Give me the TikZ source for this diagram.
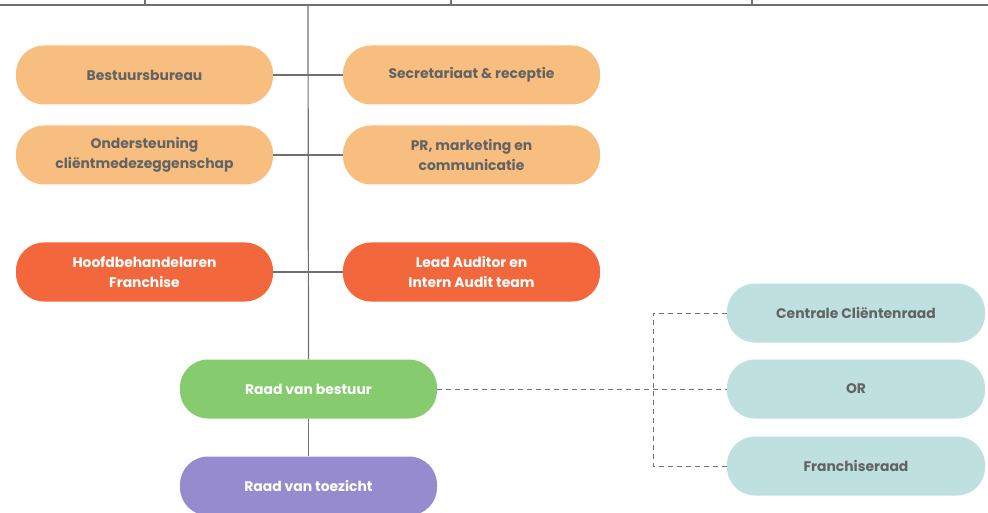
\documentclass[tikz,border=0pt]{standalone}
\usepackage{fontspec}
\setmainfont{Poppins}[UprightFont=* Bold]
\begin{document}
\definecolor{lorange}{HTML}{F8BE7F}
\definecolor{dorange}{HTML}{F2673C}
\definecolor{rgreen}{HTML}{86CB6E}
\definecolor{rpurple}{HTML}{968BCE}
\definecolor{rteal}{HTML}{BEE0DF}
\definecolor{txtgray}{HTML}{636363}
\definecolor{linegray}{HTML}{707070}
\begin{tikzpicture}[x=1pt,y=-1pt,
  box/.style={rounded corners=28pt, minimum width=257pt, minimum height=59pt,
    align=center, inner sep=0pt, font=\fontsize{13.9}{20}\selectfont},
  lbox/.style={box, fill=lorange, text=txtgray},
  dbox/.style={box, fill=dorange, text=white},
  gbox/.style={box, fill=rgreen, text=white},
  pbox/.style={box, fill=rpurple, text=white},
  tbox/.style={box, fill=rteal, text=txtgray, minimum width=258pt},
  conn/.style={draw=linegray, line width=1.2pt},
  dconn/.style={draw=linegray, line width=1pt, dash pattern=on 5pt off 4pt}]
\useasboundingbox (0,0) rectangle (988,513);
% top line
\coordinate (tl) at (0,5);
\coordinate (tr) at (988,5);
\coordinate (t1) at (145,0);
\coordinate (t1b) at (145,5);
\coordinate (t2) at (451,0);
\coordinate (t2b) at (451,5);
\coordinate (t3) at (752,0);
\coordinate (t3b) at (752,5);
\coordinate (top) at (308,5);
\draw[conn] (tl) -- (tr);
\draw[conn] (t1) -- (t1b);
\draw[conn] (t2) -- (t2b);
\draw[conn] (t3) -- (t3b);

% nodes
\node[lbox] (bb) at (144.5,75) {Bestuursbureau};
\node[lbox] (sr) at (471.5,75) {Secretariaat \& receptie};
\node[lbox] (oc) at (144.5,155) {Ondersteuning\\cliëntmedezeggenschap};
\node[lbox] (pr) at (471.5,155) {PR, marketing en\\communicatie};
\node[dbox] (hf) at (144.5,272) {Hoofdbehandelaren\\Franchise};
\node[dbox] (la) at (471.5,272) {Lead Auditor en\\Intern Audit team};
\node[gbox] (rvb) at (308.5,389) {Raad van bestuur};
\node[pbox] (rvt) at (308.5,486) {Raad van toezicht};
\node[tbox] (cc) at (856,313) {Centrale Cliëntenraad};
\node[tbox] (or) at (856,389) {OR};
\node[tbox] (fr) at (856,466) {Franchiseraad};

% connectors
\draw[conn] (top) -- (rvb.north);
\draw[conn] (rvb.south) -- (rvt.north);
\draw[conn] (bb.east) -- (sr.west);
\draw[conn] (oc.east) -- (pr.west);
\draw[conn] (hf.east) -- (la.west);

\coordinate (dj) at (653,389);
\draw[dconn] (rvb.east) -- (or.west);
\draw[dconn] (cc.west) -| (dj);
\draw[dconn] (fr.west) -| (dj);
\end{tikzpicture}
\end{document}
